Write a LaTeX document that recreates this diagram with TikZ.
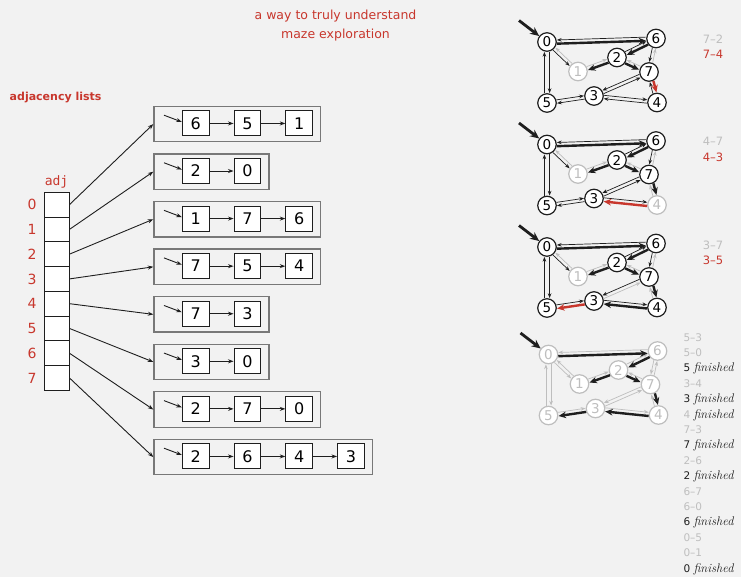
\documentclass[tikz,border=0pt]{standalone}
\usepackage{fontspec}
\usetikzlibrary{arrows.meta,calc}
\newfontfamily\dv{DejaVu Sans}
\newfontfamily\dvm{DejaVu Sans Mono}
\definecolor{bg}{RGB}{242,242,242}
\definecolor{myred}{RGB}{200,55,45}
\definecolor{lgray}{RGB}{190,190,190}
\definecolor{boxgray}{RGB}{120,120,120}
\definecolor{ink}{RGB}{30,30,30}
\newcommand\fin{{\rmfamily\itshape\fontsize{12.5}{12.5}\selectfont finished}}
\newcommand\gnodes[9]{%
 \node[#2] (#10) at (547,42) {0};
 \node[#3] (#11) at (578,71.5) {1};
 \node[#4] (#12) at (617,57.5) {2};
 \node[#5] (#13) at (594,96) {3};
 \node[#6] (#14) at (657,102.5) {4};
 \node[#7] (#15) at (547,103) {5};
 \node[#8] (#16) at (656,38.5) {6};
 \node[#9] (#17) at (649,72) {7};
 \coordinate (#1e) at (519,20.5);
 \draw[entry] (#1e) -- (#10);}
\newcommand\gedges[2]{\foreach \eu/\ev/\eo/\es in {#2}{\draw[\es] ($(#1\eu)!\eo!90:(#1\ev)$) -- ($(#1\ev)!\eo!-90:(#1\eu)$);}}
\begin{document}
\begin{tikzpicture}[x=1pt,y=-1pt,
  gn/.style={circle,draw=ink,fill=white,line width=1.2pt,minimum size=18.5pt,inner sep=0pt,font=\dv\fontsize{13.5}{13.5}\selectfont},
  gng/.style={gn,draw=lgray,text=lgray},
  tb/.style={draw=ink,line width=0.7pt,-{Stealth[length=4.8pt,width=3.6pt]},shorten <=9.7pt,shorten >=9.9pt},
  tg/.style={tb,draw=lgray},
  tk/.style={draw=ink,line width=2.4pt,-{Stealth[length=7.5pt,width=6.5pt]},shorten <=9.7pt,shorten >=9.9pt},
  tr/.style={tk,draw=myred},
  entry/.style={draw=ink,line width=2.8pt,-{Stealth[length=9pt,width=8pt]}},
  arr/.style={draw=ink,line width=0.9pt,-{Stealth[length=5.5pt,width=4pt]}},
  obox/.style={draw=boxgray,line width=1.3pt,minimum height=35.5pt,inner sep=0pt},
  ibox/.style={draw=ink,fill=white,line width=1pt,minimum width=26.7pt,minimum height=25pt,inner sep=0pt,font=\dv\fontsize{16}{16}\selectfont},
  cell/.style={draw=ink,fill=white,line width=0.9pt,minimum width=25pt,minimum height=24.75pt,inner sep=0pt},
  idx/.style={text=myred,font=\dv\fontsize{14}{14}\selectfont},
  lab/.style={anchor=base west,inner sep=0pt,font=\dv\fontsize{11.5}{11.5}\selectfont},
  lab2/.style={anchor=base west,inner sep=0pt,font=\dv\fontsize{10.5}{10.5}\selectfont},
]
\fill[bg] (0,0) rectangle (741,577);

% titles
\node[text=myred,align=center,font=\dv\fontsize{12.5}{19}\selectfont] (title) at (335.5,25.5) {a way to truly understand\\maze exploration};
\node[text=myred,anchor=base west,inner sep=0pt,font=\dv\bfseries\fontsize{11}{11}\selectfont] (hdr) at (9.5,100.7) {adjacency lists};
\node[text=myred,anchor=base,inner sep=0pt,font=\dvm\fontsize{13}{13}\selectfont] (adjl) at (56.5,186) {adj};

% array
\foreach \i in {0,...,7}{
  \node[cell] (c\i) at (56.5,{204.675+24.75*\i}) {};
  \node[idx] (i\i) at (32.2,{204.675+24.75*\i}) {\i};
}

% lists
\foreach \i/\lst/\n in {0/{6,5,1}/3,1/{2,0}/2,2/{1,7,6}/3,3/{7,5,4}/3,4/{7,3}/2,5/{3,0}/2,6/{2,7,0}/3,7/{2,6,4,3}/4}{
  \pgfmathsetmacro\tp{105.7+47.57*\i}
  \pgfmathsetmacro\w{63.3+51.75*(\n-1)}
  \node[obox,minimum width=\w pt,anchor=north west] (L\i) at (153.3,\tp) {};
  \foreach \v [count=\k] in \lst {
    \node[ibox] (L\i-\k) at ({195.65+51.75*(\k-1)},{\tp+17.75}) {\v};
    \ifnum\k>1\relax
      \pgfmathtruncatemacro\pk{\k-1}
      \draw[arr] (L\i-\pk) -- (L\i-\k);
    \fi
  }
  \coordinate (P\i) at (164,{\tp+9.5});
  \draw[arr] (P\i) -- ($(L\i-1.west)+(0,-1.5)$);
  \draw[arr] (c\i.east) -- (L\i.west);
}

% panel A : 7-4
\begin{scope}
\gnodes{a}{gn}{gng}{gn}{gn}{gn}{gn}{gn}{gn}
\gedges{a}{6/0/-1.7pt/tb, 0/1/-1.7pt/tb, 1/0/-1.7pt/tg, 0/5/2.6pt/tb, 5/0/2.6pt/tb, 1/2/1.7pt/tg, 2/6/1.7pt/tb, 7/2/-1.7pt/tg, 6/7/-1.7pt/tb, 7/6/-1.7pt/tg, 3/7/-1.7pt/tb, 7/3/-1.7pt/tb, 3/5/1.7pt/tb, 5/3/1.7pt/tb, 3/4/1.7pt/tb, 4/3/1.7pt/tb, 4/7/1.7pt/tb, 0/6/-2pt/tk, 2/1/2pt/tk, 6/2/2pt/tk, 2/7/-2pt/tk, 7/4/2pt/tr}
\end{scope}
\node[lab,text=lgray] (la1) at (702.7,44) {7–2};
\node[lab,text=myred] (la2) at (702.7,58.3) {7–4};

% panel B : 4-3
\begin{scope}[shift={(0,102.5)}]
\gnodes{b}{gn}{gng}{gn}{gn}{gng}{gn}{gn}{gn}
\gedges{b}{6/0/-1.7pt/tb, 0/1/-1.7pt/tb, 1/0/-1.7pt/tg, 0/5/2.6pt/tb, 5/0/2.6pt/tb, 1/2/1.7pt/tg, 2/6/1.7pt/tb, 7/2/-1.7pt/tg, 6/7/-1.7pt/tb, 7/6/-1.7pt/tg, 3/7/-1.7pt/tb, 7/3/-1.7pt/tb, 3/5/1.7pt/tb, 5/3/1.7pt/tb, 3/4/1.7pt/tb, 4/7/1.7pt/tg, 0/6/-2pt/tk, 2/1/2pt/tk, 6/2/2pt/tk, 2/7/-2pt/tk, 7/4/2pt/tk, 4/3/2pt/tr}
\end{scope}
\node[lab,text=lgray] (lb1) at (702.7,146) {4–7};
\node[lab,text=myred] (lb2) at (702.7,161.5) {4–3};

% panel C : 3-5
\begin{scope}[shift={(0,205)}]
\gnodes{c}{gn}{gng}{gn}{gn}{gn}{gn}{gn}{gn}
\gedges{c}{6/0/-1.7pt/tb, 0/1/-1.7pt/tb, 1/0/-1.7pt/tg, 0/5/2.6pt/tb, 5/0/2.6pt/tb, 1/2/1.7pt/tg, 2/6/1.7pt/tb, 7/2/-1.7pt/tg, 6/7/-1.7pt/tb, 7/6/-1.7pt/tg, 3/7/-1.7pt/tg, 7/3/-1.7pt/tb, 5/3/1.7pt/tb, 3/4/1.7pt/tb, 4/7/1.7pt/tg, 0/6/-2pt/tk, 2/1/2pt/tk, 6/2/2pt/tk, 2/7/-2pt/tk, 7/4/2pt/tk, 4/3/2pt/tk, 3/5/2pt/tr}
\end{scope}
\node[lab,text=lgray] (lc1) at (702.7,249.3) {3–7};
\node[lab,text=myred] (lc2) at (702.7,264.3) {3–5};

% panel D : finished
\begin{scope}[shift={(1.5,312.5)}]
\gnodes{d}{gng}{gng}{gng}{gng}{gng}{gng}{gng}{gng}
\gedges{d}{6/0/-1.7pt/tg, 0/1/-1.7pt/tg, 1/0/-1.7pt/tg, 0/5/2.6pt/tg, 5/0/2.6pt/tg, 1/2/1.7pt/tg, 2/6/1.7pt/tg, 7/2/-1.7pt/tg, 6/7/-1.7pt/tg, 7/6/-1.7pt/tg, 3/7/-1.7pt/tg, 7/3/-1.7pt/tg, 5/3/1.7pt/tg, 3/4/1.7pt/tg, 4/7/1.7pt/tg, 0/6/-2pt/tk, 2/1/2pt/tk, 6/2/2pt/tk, 2/7/-2pt/tk, 7/4/2pt/tk, 4/3/2pt/tk, 3/5/2pt/tk}
\end{scope}
\node[lab2,text=lgray] (ld1) at (683.3,341) {5–3};
\node[lab2,text=lgray] (ld2) at (683.3,356.4) {5–0};
\node[lab2,text=ink] (ld3) at (683.3,371.8) {5 \fin};
\node[lab2,text=lgray] (ld4) at (683.3,387.2) {3–4};
\node[lab2,text=ink] (ld5) at (683.3,402.6) {3 \fin};
\node[lab2,text=ink] (ld6) at (683.3,418) {\textcolor{lgray}{4} \fin};
\node[lab2,text=lgray] (ld7) at (683.3,433.4) {7–3};
\node[lab2,text=ink] (ld8) at (683.3,448.8) {7 \fin};
\node[lab2,text=lgray] (ld9) at (683.3,464.2) {2–6};
\node[lab2,text=ink] (ld10) at (683.3,479.6) {2 \fin};
\node[lab2,text=lgray] (ld11) at (683.3,495) {6–7};
\node[lab2,text=lgray] (ld12) at (683.3,510.4) {6–0};
\node[lab2,text=ink] (ld13) at (683.3,525.8) {6 \fin};
\node[lab2,text=lgray] (ld14) at (683.3,541.2) {0–5};
\node[lab2,text=lgray] (ld15) at (683.3,556.6) {0–1};
\node[lab2,text=ink] (ld16) at (683.3,572) {0 \fin};
\end{tikzpicture}
\end{document}
